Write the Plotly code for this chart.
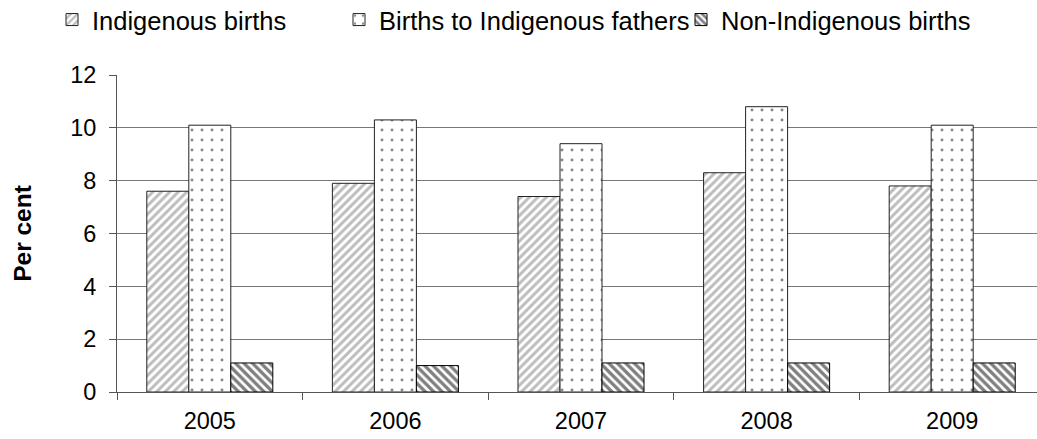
import plotly.graph_objects as go

years = ["2005", "2006", "2007", "2008", "2009"]
indigenous = [7.6, 7.9, 7.4, 8.3, 7.8]
fathers = [10.1, 10.3, 9.4, 10.8, 10.1]
non_indigenous = [1.1, 1.0, 1.1, 1.1, 1.1]
series_names = ["Indigenous births", "Births to Indigenous fathers", "Non-Indigenous births"]

FONT = "Liberation Sans, Arial, sans-serif"
W, H = 1037, 439
L, R, T = 117, 0, 75
B = H - 392
pw = W - L - R
ph = H - T - B
CAT_W = 185.6  # category width in px of the reference (plot is cropped on the right)

def px2x(px):
    return (px - L) / pw

def py2y(py):
    return 1 + (T - py) / ph

fig = go.Figure()
fig.add_trace(go.Bar(
    x=years, y=indigenous, name=series_names[0], legend="legend", showlegend=True,
    marker=dict(color="white", line=dict(color="#222222", width=1),
                pattern=dict(shape="/", fgcolor="#7c7c7c", bgcolor="white", size=6, solidity=0.5)),
))
fig.add_trace(go.Bar(
    x=years, y=fathers, name=series_names[1], legend="legend2", showlegend=True,
    marker=dict(color="white", line=dict(color="#222222", width=1),
                pattern=dict(shape=".", fgcolor="#111111", bgcolor="white", size=10, solidity=0.07)),
))
fig.add_trace(go.Bar(
    x=years, y=non_indigenous, name=series_names[2], legend="legend3", showlegend=True,
    marker=dict(color="white", line=dict(color="#000000", width=1),
                pattern=dict(shape="\\", fgcolor="#000000", bgcolor="white", size=6, solidity=0.55)),
))

leg_common = dict(orientation="h", yanchor="middle", y=py2y(20),
                  xanchor="left", font=dict(family=FONT, size=25.5, color="black"),
                  bgcolor="rgba(0,0,0,0)", itemwidth=30, tracegroupgap=0)

fig.update_layout(
    width=W, height=H,
    margin=dict(l=L, r=R, t=T, b=B, autoexpand=False),
    paper_bgcolor="white", plot_bgcolor="white",
    showlegend=True,
    barmode="group", bargap=0.321, bargroupgap=0,
    font=dict(family=FONT, size=24, color="black"),
    legend=dict(leg_common, x=px2x(95 - 43)),
    legend2=dict(leg_common, x=px2x(382 - 43)),
    legend3=dict(leg_common, x=px2x(724 - 43)),
    xaxis=dict(type="category", range=[-0.5, -0.5 + pw / CAT_W],
               showgrid=False, showline=True, linecolor="#555555", linewidth=1,
               ticks="outside", tickson="boundaries", ticklen=7, tickcolor="#555555",
               ticklabelstandoff=8,
               tickfont=dict(family=FONT, size=23.5, color="black"), zeroline=False),
    yaxis=dict(range=[0, 12], dtick=2, showgrid=True, gridcolor="#777777", gridwidth=1,
               showline=True, linecolor="#555555", linewidth=1,
               ticks="outside", ticklen=7, tickcolor="#555555", ticklabelstandoff=8,
               tickfont=dict(family=FONT, size=23.5, color="black"),
               title=dict(text="<b>Per cent</b>", font=dict(family=FONT, size=24.5, color="black"), standoff=31),
               zeroline=False),
)

fig.write_html("out.html",
               config={"displayModeBar": False},
               post_script="document.body.style.margin='0px';document.body.style.overflow='hidden';")
